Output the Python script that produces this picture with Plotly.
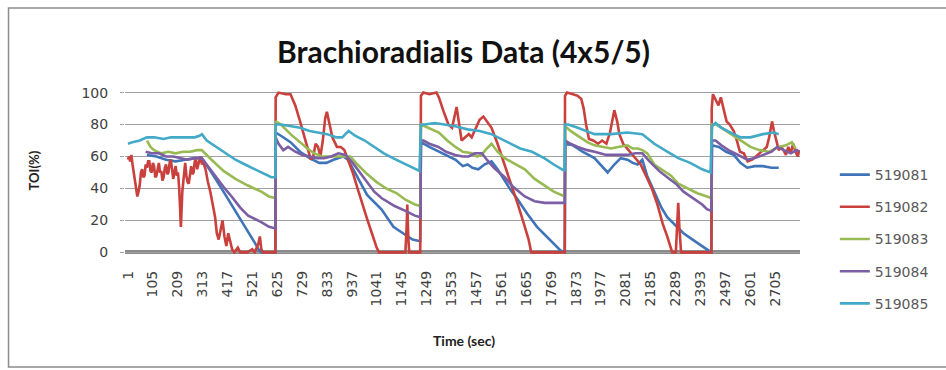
import plotly.graph_objects as go

# ---- data: time (sec) and TOI (%) per probe ----
t_519081 = [80, 120, 160, 200, 240, 280, 309, 350, 400, 450, 500, 531, 550, 560, 617,
            618, 640, 680, 720, 760, 800, 830, 860, 900, 920, 950, 1000, 1060, 1110, 1150, 1190, 1222,
            1225, 1260, 1300, 1340, 1370, 1400, 1420, 1440, 1465, 1490, 1520, 1545, 1575, 1600, 1630, 1670, 1710, 1750, 1790, 1810, 1826,
            1828, 1860, 1900, 1950, 1980, 2005, 2033, 2060, 2088, 2110, 2130, 2150, 2170, 2199, 2230, 2254, 2290, 2322, 2360, 2400, 2430, 2438,
            2441, 2470, 2500, 2532, 2560, 2588, 2620, 2654, 2690, 2720]
v_519081 = [61, 60, 58, 57, 58, 59, 59, 50, 38, 26, 14, 6, 1, 0, 0,
            75, 73, 69, 63, 59, 56, 56, 58, 60, 58, 50, 36, 27, 16, 12, 8, 7,
            69, 66, 63, 60, 58, 54, 55, 53, 52, 55, 57, 52, 45, 39, 33, 24, 16, 10, 4, 1, 0,
            68, 67, 63, 59, 54, 50, 55, 59, 58, 56, 55, 58, 48, 38, 28, 22, 17, 12, 8, 4, 1, 0,
            67, 66, 63, 61, 56, 53, 54, 54, 53, 53]

t_519082 = [1, 5, 10, 15, 20, 25, 30, 35, 40, 45, 50, 55, 60, 65, 70, 75, 80, 85, 90, 95,
            100, 105, 110, 115, 120, 125, 130, 135, 140, 145, 150, 155, 160, 165, 170, 175, 180, 185, 190, 195,
            200, 205, 210, 215, 222, 228, 235, 240, 245, 250, 255, 260, 265, 270, 275, 280, 285, 290, 295, 300,
            305, 310, 315,
            325, 335, 345, 355, 365, 372, 380, 388, 396, 404, 412, 420, 428, 436, 445, 460, 470, 500, 520, 530,
            545, 552, 558, 565, 617,
            618, 630, 660, 680, 700, 720, 740, 755, 765, 775, 785, 795, 805, 815, 825, 832, 840, 855, 874, 890,
            905, 920, 940, 960, 980, 1000, 1020, 1040, 1050, 1160, 1165, 1168, 1172, 1176, 1222,
            1225, 1235, 1260, 1290, 1300, 1320, 1340, 1355, 1365, 1374, 1385, 1395, 1410, 1425, 1437, 1455, 1470, 1486, 1500, 1520,
            1545, 1575, 1600, 1630, 1655, 1675, 1686, 1826,
            1827, 1835, 1860, 1880, 1895, 1905, 1915, 1927, 1945, 1965, 1982, 2000, 2015, 2033, 2045, 2054, 2070, 2088, 2115, 2143,
            2171, 2190, 2213, 2235, 2254, 2265, 2275, 2290, 2295, 2300, 2305, 2312, 2439,
            2440, 2445, 2455, 2468, 2478, 2491, 2502, 2515, 2532, 2545, 2558, 2574, 2590, 2609, 2625, 2640, 2657, 2670, 2680, 2692,
            2700, 2710, 2720, 2730, 2740, 2750, 2760, 2770, 2780, 2790, 2800, 2805]
v_519082 = [58, 60, 57, 61, 55, 50, 45, 40, 35, 38, 42, 50, 52, 47, 48, 55, 53, 57, 57, 51,
            50, 56, 54, 47, 48, 52, 56, 50, 51, 45, 47, 53, 55, 49, 50, 56, 58, 52, 46, 50,
            54, 48, 50, 40, 16, 38, 52, 56, 48, 44, 43, 50, 54, 49, 50, 57, 58, 52, 56, 58,
            60, 55, 57,
            52, 44, 38, 30, 22, 12, 8, 14, 20, 10, 4, 12, 6, 2, 0, 3, 0, 0, 2, 0,
            5, 10, 2, 0, 0,
            97, 100, 99, 99, 92, 82, 72, 64, 58, 60, 68, 66, 60, 70, 84, 88, 82, 72, 66, 66,
            64, 58, 50, 40, 30, 21, 12, 3, 0, 0, 15, 30, 10, 0, 0,
            98, 100, 99, 100, 97, 88, 80, 78, 86, 91, 80, 70, 72, 74, 72, 78, 83, 85, 82, 78,
            68, 55, 44, 30, 18, 8, 0, 0,
            98, 100, 99, 98, 96, 90, 80, 71, 70, 68, 70, 68, 75, 89, 82, 74, 68, 65, 60, 55,
            46, 40, 30, 18, 10, 4, 0, 0, 20, 31, 15, 0, 0,
            90, 99, 96, 92, 97, 89, 82, 80, 76, 70, 63, 62, 57, 58, 60, 62, 64, 66, 72, 82,
            76, 70, 64, 66, 64, 61, 66, 62, 68, 63, 60, 64]

t_519083 = [80, 95, 110, 140, 170, 200, 230, 260, 290, 309, 350, 400, 450, 500, 558, 590, 617,
            618, 640, 680, 720, 750, 780, 810, 850, 880, 930, 960, 1000, 1040, 1080, 1124, 1160, 1200, 1223,
            1225, 1240, 1270, 1300, 1335, 1369, 1400, 1437, 1460, 1478, 1500, 1520, 1545, 1575, 1610, 1659, 1700, 1740, 1780, 1826,
            1828, 1850, 1880, 1920, 1950, 1990, 2019, 2050, 2088, 2110, 2131, 2150, 2171, 2200, 2240, 2270, 2300, 2340, 2380, 2420, 2438,
            2441, 2460, 2490, 2532, 2560, 2602, 2640, 2680, 2720, 2750, 2775, 2790]
v_519083 = [70, 66, 64, 62, 63, 62, 63, 63, 64, 64, 58, 51, 46, 42, 38, 35, 34,
            82, 80, 74, 69, 65, 62, 60, 60, 60, 60, 55, 49, 44, 40, 37, 33, 30, 29,
            80, 79, 77, 75, 70, 66, 63, 62, 60, 61, 65, 68, 63, 59, 56, 52, 46, 42, 38, 35,
            79, 76, 73, 69, 67, 66, 65, 66, 67, 65, 65, 64, 62, 55, 51, 48, 43, 40, 37, 35, 34,
            80, 80, 77, 73, 70, 66, 64, 63, 66, 67, 69, 65]

t_519084 = [75, 100, 130, 160, 190, 220, 250, 280, 309, 340, 370, 400, 434, 470, 503, 530, 558, 590, 617,
            618, 630, 650, 670, 700, 730, 760, 790, 820, 850, 880, 910, 940, 970, 999, 1030, 1060, 1090, 1115, 1160, 1200, 1223,
            1225, 1236, 1260, 1298, 1330, 1368, 1400, 1424, 1450, 1480, 1500, 1530, 1575, 1610, 1659, 1700, 1742, 1790, 1826,
            1828, 1850, 1880, 1920, 1950, 2000, 2050, 2088, 2120, 2150, 2180, 2220, 2254, 2290, 2322, 2360, 2400, 2420, 2438,
            2441, 2456, 2480, 2510, 2550, 2588, 2620, 2657, 2690, 2713, 2740, 2770, 2796, 2805]
v_519084 = [63, 62, 62, 60, 60, 59, 58, 59, 59, 53, 47, 41, 35, 28, 23, 21, 19, 16, 15,
            72, 68, 64, 66, 63, 61, 60, 59, 59, 60, 62, 61, 56, 50, 44, 38, 34, 31, 29, 26, 23, 22,
            70, 70, 68, 66, 63, 61, 60, 60, 62, 62, 58, 53, 47, 41, 35, 32, 31, 31, 31,
            70, 68, 66, 64, 63, 61, 61, 61, 62, 62, 57, 51, 47, 43, 38, 34, 30, 27, 26,
            70, 70, 67, 64, 61, 58, 59, 61, 63, 66, 64, 62, 64, 63]

t_519085 = [1, 20, 50, 80, 110, 150, 180, 210, 250, 280, 300, 310, 330, 370, 410, 450, 490, 530, 570, 600, 617,
            618, 640, 680, 720, 760, 800, 833, 870, 896, 923, 950, 990, 1030, 1070, 1108, 1150, 1190, 1219,
            1225, 1240, 1284, 1320, 1368, 1420, 1470, 1520, 1560, 1600, 1640, 1689, 1740, 1780, 1825,
            1827, 1840, 1880, 1950, 2019, 2088, 2150, 2200, 2254, 2300, 2350, 2400, 2435,
            2441, 2456, 2480, 2519, 2560, 2602, 2654, 2699, 2720]
v_519085 = [68, 69, 70, 72, 72, 71, 72, 72, 72, 72, 73, 74, 70, 66, 62, 58, 55, 52, 49, 47, 47,
            80, 80, 79, 78, 76, 75, 74, 72, 72, 76, 73, 70, 66, 62, 59, 56, 53, 51,
            80, 80, 81, 80, 79, 77, 76, 74, 71, 68, 65, 63, 59, 55, 51,
            80, 80, 78, 74, 74, 75, 74, 68, 63, 59, 56, 52, 50,
            79, 81, 78, 75, 72, 72, 74, 75, 74]

series_names = ["519081", "519082", "519083", "519084", "519085"]
series_t = [t_519081, t_519082, t_519083, t_519084, t_519085]
series_v = [v_519081, v_519082, v_519083, v_519084, v_519085]
series_colors = ["#3F74B8", "#C9403C", "#98BA52", "#7B5EA3", "#42A9C6"]

# category tick labels every 104 s
x_ticks = list(range(1, 2706, 104))
y_ticks = [0, 20, 40, 60, 80, 100]

fig = go.Figure()
for i, (name, t, v, c) in enumerate(zip(series_names, series_t, series_v, series_colors)):
    fig.add_trace(go.Scatter(
        x=t, y=v, name=name, mode="lines",
        line=dict(color=c, width=2.6),
        legendgroup=f"g{i}",
    ))

W, H = 946, 370
L, R, T, B = 125, 143, 91, 116
pw, ph = W - L - R, H - T - B


def px_x(p):
    return (p - L) / pw


def px_y(p):
    return (H - B - p) / ph


fig.update_layout(
    width=W, height=H,
    margin=dict(l=L, r=R, t=T, b=B),
    paper_bgcolor="white", plot_bgcolor="white",
    font=dict(family="DejaVu Sans", size=13, color="#404040"),
    showlegend=True,
    legend=dict(
        x=px_x(838), xanchor="left",
        y=px_y(159), yanchor="top",
        tracegroupgap=11,
        maxheight=220,
        font=dict(family="DejaVu Sans", size=14, color="#595959"),
        bgcolor="rgba(0,0,0,0)",
    ),
    xaxis=dict(
        range=[-11.5, 2808.8],
        tickmode="array", tickvals=x_ticks, ticktext=[str(v) for v in x_ticks],
        tickangle=-90, ticks="", showgrid=False, zeroline=False, showline=False,
        ticklabelstandoff=13,
        tickfont=dict(family="DejaVu Sans", size=14, color="#404040"),
    ),
    yaxis=dict(
        range=[-1, 101],
        tickmode="array", tickvals=y_ticks,
        showgrid=True, gridcolor="#a0a0a0", gridwidth=1,
        zeroline=False, showline=False,
        ticks="outside", ticklen=4, tickcolor="#a0a0a0",
        ticklabelstandoff=9,
        tickfont=dict(family="DejaVu Sans", size=14, color="#404040"),
    ),
)

# thick gray category axis along y = 0
fig.add_shape(type="line", xref="paper", yref="y", x0=0, x1=1, y0=0, y1=0,
              line=dict(color="#8a8a8a", width=5), layer="below")
# chart-area border
fig.add_shape(type="rect", xref="paper", yref="paper",
              x0=px_x(8), x1=px_x(962), y0=px_y(367), y1=px_y(8),
              line=dict(color="#8c8c8c", width=1.5), layer="below")

fig.add_annotation(text="Brachioradialis Data (4x5/5)", xref="paper", yref="paper",
                   x=px_x(465), y=px_y(51), xanchor="center", yanchor="middle", showarrow=False,
                   font=dict(family="Lato", size=30, color="#111111", weight="bold"))
fig.add_annotation(text="TOI(%)", xref="paper", yref="paper",
                   x=px_x(34), y=px_y(170), xanchor="center", yanchor="middle",
                   showarrow=False, textangle=-90,
                   font=dict(family="Lato", size=13, color="#222222", weight="bold"))
fig.add_annotation(text="Time (sec)", xref="paper", yref="paper",
                   x=px_x(466), y=px_y(340), xanchor="center", yanchor="middle", showarrow=False,
                   font=dict(family="Lato", size=14, color="#222222", weight="bold"))

fig.write_html("out.html")
